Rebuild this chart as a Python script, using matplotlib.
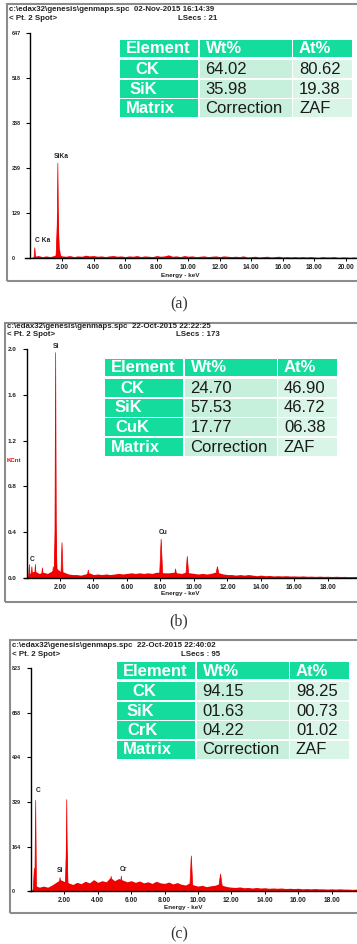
import numpy as np
import matplotlib
matplotlib.use("Agg")
import matplotlib.pyplot as plt
from matplotlib.patches import Rectangle

plt.rcParams["font.family"] = ["Liberation Sans", "DejaVu Sans"]

W, H = 357, 944

# spectrum channels for the background trace (keV)
kev_grid = np.arange(0.0, 21.01, 0.25)

# ---------------- panel (a) ----------------
bg_a = [0, 5, 7, 4, 6, 4, 7, 12, 6, 5, 7, 4,
        6, 5, 8, 6, 7, 5, 6, 4, 6, 7, 5, 6,
        4, 6, 5, 7, 4, 6, 5, 4, 7, 5, 6, 9,
        5, 6, 4, 7, 5, 6, 4, 5, 6, 4, 5, 6,
        4, 6, 5, 4, 5, 4, 6, 3, 4, 5, 3, 4,
        5, 3, 4, 5, 3, 4, 3, 4, 3, 4, 3, 4,
        3, 2, 4, 3, 3, 4, 2, 3, 3, 2, 3, 2, 3]
peak_kev_a = [0.28, 1.74, 1.74, 1.86]
peak_cnt_a = [30, 130, 273, 22]
peak_wid_a = [0.05, 0.12, 0.06, 0.07]
yticks_a = [0, 129, 259, 388, 518, 647]
xticks_a = [2, 4, 6, 8, 10, 12, 14, 16, 18, 20]
elements_a = ["CK", "SiK", "Matrix"]
wt_a = ["64.02", "35.98", "Correction"]
at_a = ["80.62", "19.38", "ZAF"]

# ---------------- panel (b) ----------------
bg_b = [0, .05, .06, .04, .05, .04, .06, .09, .06, .05, .035, .03,
        .03, .025, .035, .045, .03, .035, .03, .035, .03, .035, .04, .035,
        .04, .045, .04, .045, .04, .045, .04, .05, .05, .045, .045, .05,
        .045, .04, .05, .045, .04, .035, .04, .035, .04, .05, .045, .035,
        .03, .03, .025, .03, .025, .03, .025, .02, .025, .02, .022, .018,
        .02, .018, .02, .017, .018, .016, .018, .015, .016, .014, .016, .014,
        .015, .013, .015, .013, .014, .012, .013, .012, .013, .011, .012, .011, .011]
peak_kev_b = [0.17, 0.32, 0.53, 0.95, 1.60, 1.74, 1.74, 2.12, 3.69, 8.04, 8.90, 9.60, 11.40]
peak_cnt_b = [0.12, 0.10, 0.12, 0.09, 0.10, 0.50, 1.97, 0.31, 0.07, 0.34, 0.08, 0.19, 0.10]
peak_wid_b = [0.05, 0.05, 0.05, 0.06, 0.06, 0.10, 0.05, 0.07, 0.08, 0.10, 0.09, 0.10, 0.14]
yticks_b = [0.0, 0.4, 0.8, 1.2, 1.6, 2.0]
xticks_b = [2, 4, 6, 8, 10, 12, 14, 16, 18]
elements_b = ["CK", "SiK", "CuK", "Matrix"]
wt_b = ["24.70", "57.53", "17.77", "Correction"]
at_b = ["46.90", "46.72", "06.38", "ZAF"]

# ---------------- panel (c) ----------------
bg_c = [0, 20, 14, 18, 14, 22, 32, 42, 35, 30, 24, 32,
        27, 36, 30, 42, 32, 38, 34, 50, 38, 46, 40, 34,
        38, 32, 37, 30, 34, 28, 36, 30, 28, 33, 26, 31,
        25, 22, 30, 22, 18, 21, 16, 19, 21, 26, 20, 16,
        14, 13, 15, 12, 13, 11, 13, 11, 12, 10, 11, 10,
        11, 9, 10, 9, 10, 8, 9, 8, 9, 8, 8, 7,
        8, 7, 8, 7, 7, 6, 7, 6, 7, 6, 6, 5, 6]
peak_kev_c = [0.20, 0.28, 1.74, 2.14, 2.14, 4.80, 5.41, 9.60, 11.35]
peak_cnt_c = [85, 335, 50, 190, 338, 55, 55, 130, 63]
peak_wid_c = [0.07, 0.05, 0.09, 0.09, 0.05, 0.07, 0.09, 0.10, 0.14]
yticks_c = [0, 164, 329, 494, 658, 823]
xticks_c = [2, 4, 6, 8, 10, 12, 14, 16, 18]
elements_c = ["CK", "SiK", "CrK", "Matrix"]
wt_c = ["94.15", "01.63", "04.22", "Correction"]
at_c = ["98.25", "00.73", "01.02", "ZAF"]

RED = "#f20000"
GREEN = "#14dc9d"
PALE = "#c6f0dc"
PALE2 = "#d9f5e8"
FRAME = "#8c8c8c"

fig = plt.figure(figsize=(W / 100, H / 100), dpi=100)


def fx(x):
    return x / W


def fy(y):
    return 1 - y / H


def frame(left, top, bottom, right=358.5):
    fig.patches.append(Rectangle((fx(left), fy(bottom)), (right - left) / W, (bottom - top) / H,
                                 transform=fig.transFigure, fill=False,
                                 edgecolor=FRAME, lw=1.5))


def header(x, y, path_line, lsecs):
    kw = dict(fontsize=5.7, fontweight="bold", color="#222222", va="center", ha="left")
    fig.text(fx(x), fy(y), path_line, **kw)
    fig.text(fx(x), fy(y + 8.5), "< Pt. 2 Spot>", **kw)
    fig.text(fx(x + 169), fy(y + 8.5), lsecs, **kw)


def spectrum(x0, y0, ytop, scale, xmin, ymax, yticks, ylabels, ysize, xt,
             bg, pk_e, pk_h, pk_w, labels):
    xmax = 22.0
    left = x0 + xmin * scale
    right = x0 + xmax * scale
    ax = fig.add_axes([fx(left), fy(y0), (right - left) / W, (y0 - ytop) / H])
    ax.set_xlim(xmin, xmax)
    ax.set_ylim(0, ymax)
    ax.patch.set_alpha(0)
    ax.fill_between(kev_grid, bg, 0, color=RED, lw=0)
    for e, h, w in zip(pk_e, pk_h, pk_w):
        ax.fill([e - w, e, e + w], [0, h, 0], facecolor=RED, edgecolor=RED, lw=0.5)
    for txt, i, dx, dy in labels:
        ax.annotate(txt, (pk_e[i], pk_h[i]), xytext=(dx, dy), textcoords="offset pixels",
                    ha="center", va="bottom", fontsize=4.8, fontweight="bold",
                    color="#222222", annotation_clip=False)
    for s in ["top", "right"]:
        ax.spines[s].set_visible(False)
    ax.spines["left"].set_position(("data", 0))
    ax.spines["left"].set_linewidth(1.0)
    ax.spines["bottom"].set_linewidth(1.0)
    ax.set_yticks(yticks)
    ax.set_yticklabels(ylabels)
    ax.tick_params(axis="y", length=2.9, width=0.8, pad=10.8, labelsize=ysize)
    for lbl in ax.get_yticklabels():
        lbl.set_ha("left")
        lbl.set_fontweight("bold")
        lbl.set_color("#222222")
    ax.set_xticks(xt)
    ax.set_xticklabels([f"{v:.2f}" for v in xt])
    ax.tick_params(axis="x", length=1.8, width=0.7, pad=2.2, labelsize=4.8)
    for lbl in ax.get_xticklabels():
        lbl.set_fontweight("bold")
        lbl.set_color("#222222")
    return ax


def table(left, top, elements, wt, at):
    col_w = [78, 92, 59]
    gap = 1.5
    head_h, head_gap, row_h, row_gap = 17, 3, 18, 1.5
    indent = {"CK": 9, "SiK": 4, "CuK": 4, "CrK": 4}
    n = len(elements)
    total_w = sum(col_w) + 2 * gap
    total_h = head_h + head_gap + n * row_h + (n - 1) * row_gap
    ax = fig.add_axes([fx(left), fy(top + total_h), total_w / W, total_h / H])
    ax.set_xlim(0, total_w)
    ax.set_ylim(total_h, 0)
    ax.axis("off")
    col_x = [0, col_w[0] + gap, col_w[0] + col_w[1] + 2 * gap]
    rows = [("Element", "Wt%", "At%")] + list(zip(elements, wt, at))
    for i, row in enumerate(rows):
        if i == 0:
            y, h = 0, head_h
        else:
            y, h = head_h + head_gap + (i - 1) * (row_h + row_gap), row_h
        for j, txt in enumerate(row):
            strong = i == 0 or j == 0
            fc = GREEN if strong else (PALE if j == 1 else PALE2)
            ax.add_patch(Rectangle((col_x[j], y), col_w[j], h, facecolor=fc, lw=0))
            pad = 6 + (indent.get(txt, 0) if j == 0 else 0)
            ax.text(col_x[j] + pad, y + h / 2 + 0.5, txt, ha="left", va="center",
                    fontsize=12, fontweight="bold" if strong else "normal",
                    color="white" if strong else "#1a1a1a")


def caption(y, txt):
    fig.text(fx(179), fy(y), txt, ha="center", va="center", fontsize=11.5,
             family="Liberation Serif", color="#333333")


# ---- (a) ----
frame(7, 4, 281)
header(9, 9.5, "c:\\edax32\\genesis\\genmaps.spc  02-Nov-2015 16:14:39", "LSecs : 21")
spectrum(30.4, 258, 33, 15.78, -0.34, 647, yticks_a, [str(v) for v in yticks_a], 3.9, xticks_a,
         bg_a, peak_kev_a, peak_cnt_a, peak_wid_a,
         [("C Ka", 0, 8, 4), ("SiKa", 2, 3, 3)])
fig.text(fx(180), fy(275), "Energy - keV", ha="center", va="center", fontsize=4.6,
         fontweight="bold", color="#222222")
table(120, 40, elements_a, wt_a, at_a)
caption(304, "(a)")

# ---- (b) ----
frame(5, 323, 602)
header(7, 326, "c:\\edax32\\genesis\\genmaps.spc  22-Oct-2015 22:22:25", "LSecs : 173")
spectrum(26.5, 578, 349, 16.75, -0.15, 2.0, yticks_b, [f"{v:.1f}" for v in yticks_b], 4.6, xticks_b,
         bg_b, peak_kev_b, peak_cnt_b, peak_wid_b,
         [("C", 1, 0, 4), ("Si", 6, 0, 2), ("Cu", 9, 2, 3)])
fig.text(fx(7), fy(461), "KCnt", ha="left", va="center", fontsize=4.4,
         fontweight="bold", color=RED)
fig.text(fx(180), fy(594), "Energy - keV", ha="center", va="center", fontsize=4.6,
         fontweight="bold", color="#222222")
table(105, 359, elements_b, wt_b, at_b)
caption(621, "(b)")

# ---- (c) ----
frame(10, 640, 913)
header(12, 645.5, "c:\\edax32\\genesis\\genmaps.spc  22-Oct-2015 22:40:02", "LSecs : 95")
spectrum(31, 891, 668, 16.7, -0.12, 823, yticks_c, [str(v) for v in yticks_c], 3.9, xticks_c,
         bg_c, peak_kev_c, peak_cnt_c, peak_wid_c,
         [("C", 1, 2, 6), ("Si", 2, 0, 3), ("Cr", 6, 2, 3)])
fig.text(fx(183), fy(908), "Energy - keV", ha="center", va="center", fontsize=4.6,
         fontweight="bold", color="#222222")
table(117, 662, elements_c, wt_c, at_c)
caption(934, "(c)")

fig.savefig("out.png", dpi=100)
